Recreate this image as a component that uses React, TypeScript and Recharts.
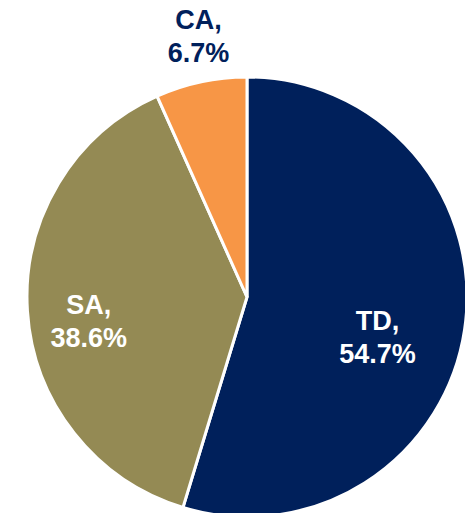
import { PieChart, Pie, Cell } from 'recharts';

const names = ['TD', 'SA', 'CA'];
const shares = [54.7, 38.6, 6.7];
const colors = ['#00205B', '#948A54', '#F79646'];

const data = names.map((name, i) => ({ name, value: shares[i] }));

const RADIAN = Math.PI / 180;

// label placement tweaks (radius as fraction of outer radius, angle nudge in degrees)
const labelTweak: Record<string, { r: number; da: number; fill: string }> = {
  TD: { r: 0.62, da: -8.5, fill: '#FFFFFF' },
  SA: { r: 0.727, da: 4.9, fill: '#FFFFFF' },
  CA: { r: 1.205, da: -1.5, fill: '#00205B' },
};

const renderLabel = (props: any) => {
  const { cx, cy, midAngle, outerRadius, name, value } = props;
  const t = labelTweak[name];
  const a = (midAngle + t.da) * RADIAN;
  const rad = outerRadius * t.r;
  const x = cx + rad * Math.cos(a);
  const y = cy - rad * Math.sin(a);
  return (
    <text
      x={x}
      y={y}
      fill={t.fill}
      textAnchor="middle"
      fontFamily="'Liberation Sans', Arial, sans-serif"
      fontWeight="bold"
      fontSize={27}
    >
      <tspan x={x} y={y - 7}>{name},</tspan>
      <tspan x={x} y={y + 26}>{value.toFixed(1)}%</tspan>
    </text>
  );
};

const App = () => {
  return (
    <div style={{ position: 'absolute', left: 0, top: 0, width: 465, height: 513, background: '#fff', overflow: 'hidden' }}>
      <PieChart width={465} height={513} margin={{ top: 0, right: 0, bottom: 0, left: 0 }}>
        <Pie
          data={data}
          dataKey="value"
          nameKey="name"
          cx={247}
          cy={297}
          outerRadius={220}
          startAngle={90}
          endAngle={-270}
          stroke="#FFFFFF"
          strokeWidth={3}
          label={renderLabel}
          labelLine={false}
          isAnimationActive={false}
        >
          {data.map((d, i) => (
            <Cell key={d.name} fill={colors[i]} />
          ))}
        </Pie>
      </PieChart>
    </div>
  );
};

export default App;
